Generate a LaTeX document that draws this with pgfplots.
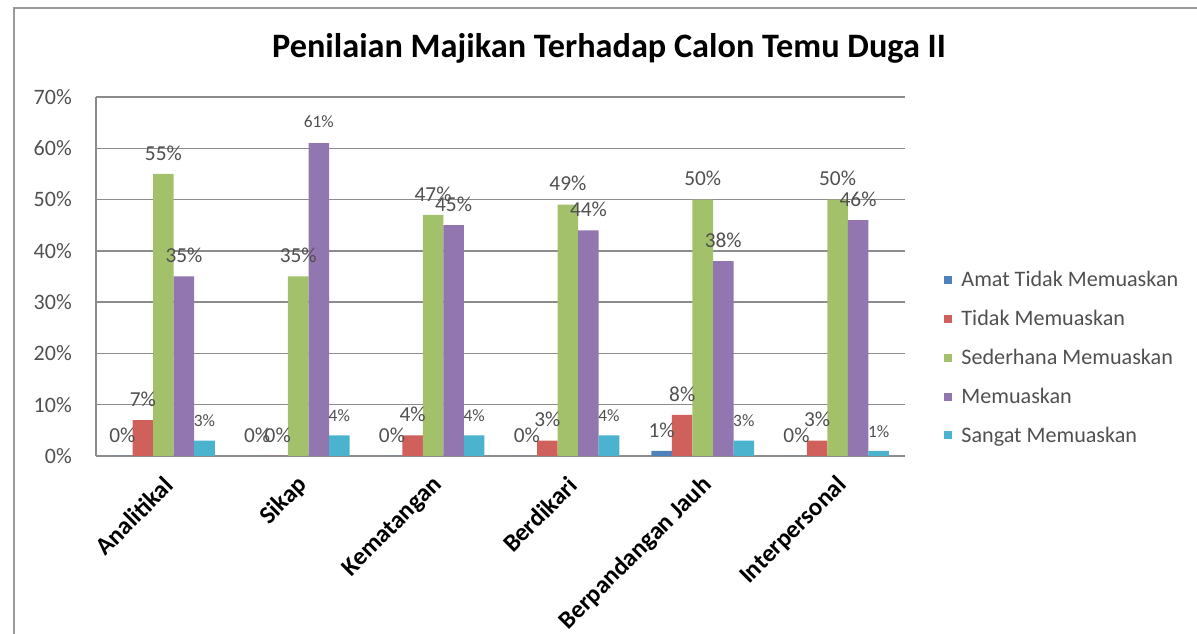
\documentclass[border=0pt]{standalone}
\usepackage{pgfplots}
\pgfplotsset{compat=1.18}
\usepackage{fontspec}
\setmainfont{Carlito}
\definecolor{cA}{HTML}{4F81BD}
\definecolor{cB}{HTML}{D0605B}
\definecolor{cC}{HTML}{A3C16A}
\definecolor{cD}{HTML}{9176B0}
\definecolor{cE}{HTML}{4BB3CD}
\definecolor{gridc}{HTML}{8C8C8C}
\definecolor{labc}{HTML}{505050}
\begin{document}
\begin{tikzpicture}
\useasboundingbox (0,0) rectangle (897.75pt,475.5pt);
\draw[gray!80, line width=1pt] (10.5pt,-2pt) -- (10.5pt,469.5pt) -- (899pt,469.5pt);
\node[font=\bfseries\fontsize{25.7}{30}\selectfont] at (456.75pt,439pt) {Penilaian Majikan Terhadap Calon Temu Duga II};
\begin{axis}[
  at={(72pt,133.5pt)}, anchor=south west,
  scale only axis, width=606.75pt, height=269.25pt,
  ybar=0pt, bar width=15.4pt,
  xmin=-0.5, xmax=5.5, ymin=0, ymax=70,
  xtick={0,...,5},
  xticklabels={Analitikal,Sikap,Kematangan,Berdikari,Berpandangan Jauh,Interpersonal},
  ytick={0,10,...,70},
  yticklabel={\pgfmathprintnumber{\tick}\%},
  /pgf/number format/assume math mode=true,
  major tick length=0pt,
  ymajorgrids, grid style={gridc, line width=1.1pt},
  axis x line*=bottom, axis y line*=left,
  axis line style={gridc, line width=1.1pt},
  xticklabel style={xshift=4pt, yshift=-19pt, rotate=45, anchor=east, inner sep=0pt, font=\bfseries\fontsize{18.7}{22}\selectfont},
  yticklabel style={inner sep=0pt, xshift=-18pt, anchor=east, font=\fontsize{16.5}{19}\selectfont, text=labc},
  point meta=explicit symbolic,
  nodes near coords,
  every node near coord/.append style={anchor=center, yshift=15.75pt, inner sep=0pt, font=\fontsize{16}{19}\selectfont, text=labc},
  legend style={at={(1.048,0.515)}, anchor=north west, draw=none, fill=none, inner sep=0pt, row sep=16.1pt, column sep=7pt,
    nodes={inner sep=0pt, anchor=west, font=\fontsize{16.6}{19}\selectfont, text=labc}},
  legend cell align=left,
  legend image code/.code={\fill[#1] (0pt,-3pt) rectangle (6pt,3pt);},
]
\addplot[fill=cA, draw=none] coordinates {(0,0) [0\%] (1,0) [0\%] (2,0) [0\%] (3,0) [0\%] (4,1) [1\%] (5,0) [0\%]};
\addplot[fill=cB, draw=none] coordinates {(0,7) [7\%] (1,0) [0\%] (2,4) [4\%] (3,3) [3\%] (4,8) [8\%] (5,3) [3\%]};
\addplot[fill=cC, draw=none] coordinates {(0,55) [55\%] (1,35) [35\%] (2,47) [47\%] (3,49) [49\%] (4,50) [50\%] (5,50) [50\%]};
\addplot[fill=cD, draw=none] coordinates {(0,35) [35\%] (1,61) [{\fontsize{13}{15}\selectfont 61\%}] (2,45) [45\%] (3,44) [44\%] (4,38) [38\%] (5,46) [46\%]};
\addplot[fill=cE, draw=none, every node near coord/.append style={font=\fontsize{13}{15}\selectfont, yshift=-1pt}] coordinates {(0,3) [3\%] (1,4) [4\%] (2,4) [4\%] (3,4) [4\%] (4,3) [3\%] (5,1) [1\%]};
\legend{Amat Tidak Memuaskan, Tidak Memuaskan, Sederhana Memuaskan, Memuaskan, Sangat Memuaskan}
\end{axis}
\end{tikzpicture}
\end{document}
